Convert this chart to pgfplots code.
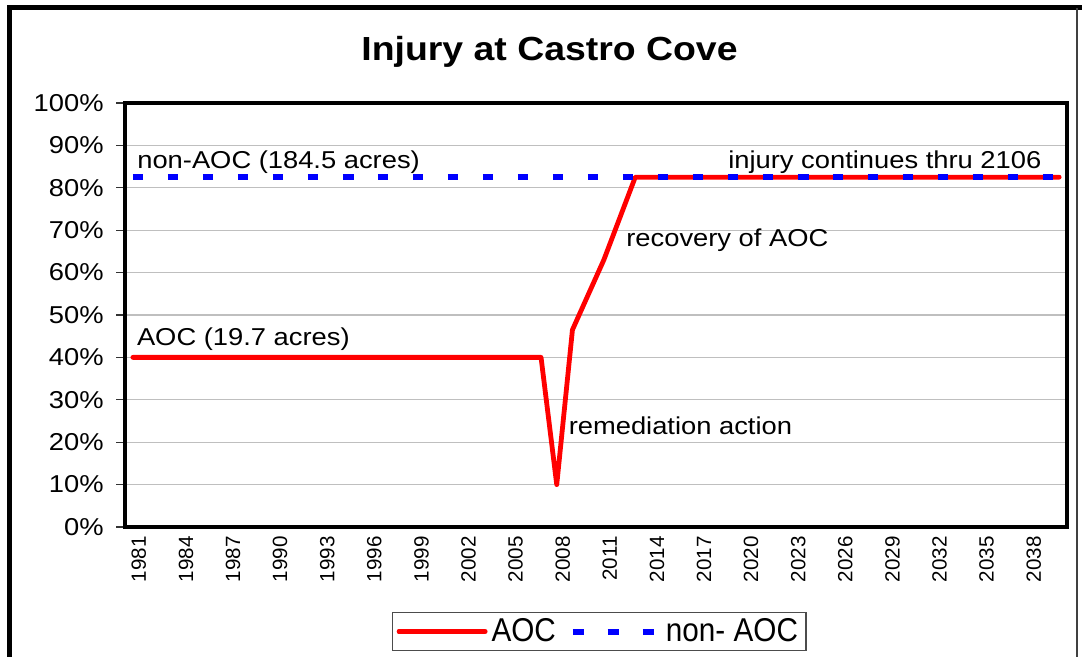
\documentclass[border=0pt]{standalone}
\usepackage{fontspec}
\setmainfont{Liberation Sans}[FakeStretch=1.12]
\newfontfamily\xfont{Liberation Sans}
\newfontfamily\legfont{Liberation Sans}[FakeStretch=0.9]
\usepackage{pgfplots}
\usepackage{pgfplotstable}
\pgfplotsset{compat=1.18}
\pgfplotstableread{
year aoc nonaoc
1981 40 82.5
1982 40 82.5
1983 40 82.5
1984 40 82.5
1985 40 82.5
1986 40 82.5
1987 40 82.5
1988 40 82.5
1989 40 82.5
1990 40 82.5
1991 40 82.5
1992 40 82.5
1993 40 82.5
1994 40 82.5
1995 40 82.5
1996 40 82.5
1997 40 82.5
1998 40 82.5
1999 40 82.5
2000 40 82.5
2001 40 82.5
2002 40 82.5
2003 40 82.5
2004 40 82.5
2005 40 82.5
2006 40 82.5
2007 40 82.5
2008 10 82.5
2009 46.5 82.5
2010 54.75 82.5
2011 63 82.5
2012 72.75 82.5
2013 82.5 82.5
2014 82.5 82.5
2015 82.5 82.5
2016 82.5 82.5
2017 82.5 82.5
2018 82.5 82.5
2019 82.5 82.5
2020 82.5 82.5
2021 82.5 82.5
2022 82.5 82.5
2023 82.5 82.5
2024 82.5 82.5
2025 82.5 82.5
2026 82.5 82.5
2027 82.5 82.5
2028 82.5 82.5
2029 82.5 82.5
2030 82.5 82.5
2031 82.5 82.5
2032 82.5 82.5
2033 82.5 82.5
2034 82.5 82.5
2035 82.5 82.5
2036 82.5 82.5
2037 82.5 82.5
2038 82.5 82.5
2039 82.5 82.5
2040 82.5 82.5
}\injury
\begin{document}
\begin{tikzpicture}
\useasboundingbox (0,0) rectangle (541pt,328.5pt);
\fill[white] (0,0) rectangle (541pt,328.5pt);
\draw[line width=2.5pt] (4.6pt,0) -- (4.6pt,324.5pt) -- (541pt,324.5pt);
\draw[line width=0.7pt, black!75] (538.5pt,0) -- (538.5pt,324.5pt);
\node[anchor=base, font=\fontsize{16.7}{20}\selectfont\bfseries, inner sep=0pt] at (274.75pt,298pt) {Injury at Castro Cove};
\begin{axis}[
  at={(62.5pt,65pt)}, anchor=south west,
  scale only axis, width=471pt, height=212pt,
  xmin=1980.5, xmax=2040.5, ymin=0, ymax=100,
  axis line style={line width=2.4pt, line join=miter},
  ytick={0,10,...,100},
  yticklabels={0\%,10\%,20\%,30\%,40\%,50\%,60\%,70\%,80\%,90\%,100\%},
  xtick={1981,1984,1987,1990,1993,1996,1999,2002,2005,2008,2011,2014,2017,2020,2023,2026,2029,2032,2035,2038},
  xticklabels={1981,1984,1987,1990,1993,1996,1999,2002,2005,2008,2011,2014,2017,2020,2023,2026,2029,2032,2035,2038},
  minor xtick={1980.5,1981.5,...,2040.5},
  tick align=outside,
  xtick pos=bottom, ytick pos=left,
  major tick length=4.5pt, minor tick length=3pt,
  xtick style={draw=none},
  minor x tick style={line width=0.5pt, black!80},
  ytick style={line width=0.6pt, black!80},
  ymajorgrids, major grid style={line width=0.6pt, black!25},
  yticklabel style={font=\fontsize{12.2}{14}\selectfont, inner sep=0pt, anchor=east, xshift=-6pt},
  xticklabel style={font=\xfont\fontsize{10.3}{12}\selectfont, rotate=90, anchor=east, inner sep=0pt, yshift=-3pt},
  legend columns=2,
  legend style={at={(0.5036,-0.2465)}, anchor=center, draw=black!70, line width=0.6pt,
    font=\legfont\fontsize{16.5}{18}\selectfont, inner xsep=2pt, inner ysep=1pt,
    /tikz/every even column/.append style={column sep=5pt}},
  legend image code/.code={\draw[#1] (0pt,0pt) -- (40pt,0pt); \path (0pt,0pt) -- (43pt,0pt);},
  clip=false,
]
\addplot[red, line width=2.4pt, line cap=round, line join=round] table[x=year, y=aoc] {\injury};
\addlegendentry{AOC}
\addplot[blue, line width=3pt, dash pattern=on 5.3pt off 12.2pt] table[x=year, y=nonaoc] {\injury};
\addlegendentry{non- AOC}
\node[anchor=base west, inner sep=0pt, font=\fontsize{12.2}{14}\selectfont] at (axis cs:1981.26,84.55) {non-AOC (184.5 acres)};
\node[anchor=base east, inner sep=0pt, font=\fontsize{12.2}{14}\selectfont] at (axis cs:2038.89,84.55) {injury continues thru 2106};
\node[anchor=base west, inner sep=0pt, font=\fontsize{12.2}{14}\selectfont] at (axis cs:2012.41,66.1) {recovery of AOC};
\node[anchor=base west, inner sep=0pt, font=\fontsize{12.2}{14}\selectfont] at (axis cs:1981.24,42.9) {AOC (19.7 acres)};
\node[anchor=base west, inner sep=0pt, font=\fontsize{12.2}{14}\selectfont] at (axis cs:2008.74,21.7) {remediation action};
\end{axis}
\end{tikzpicture}
\end{document}
